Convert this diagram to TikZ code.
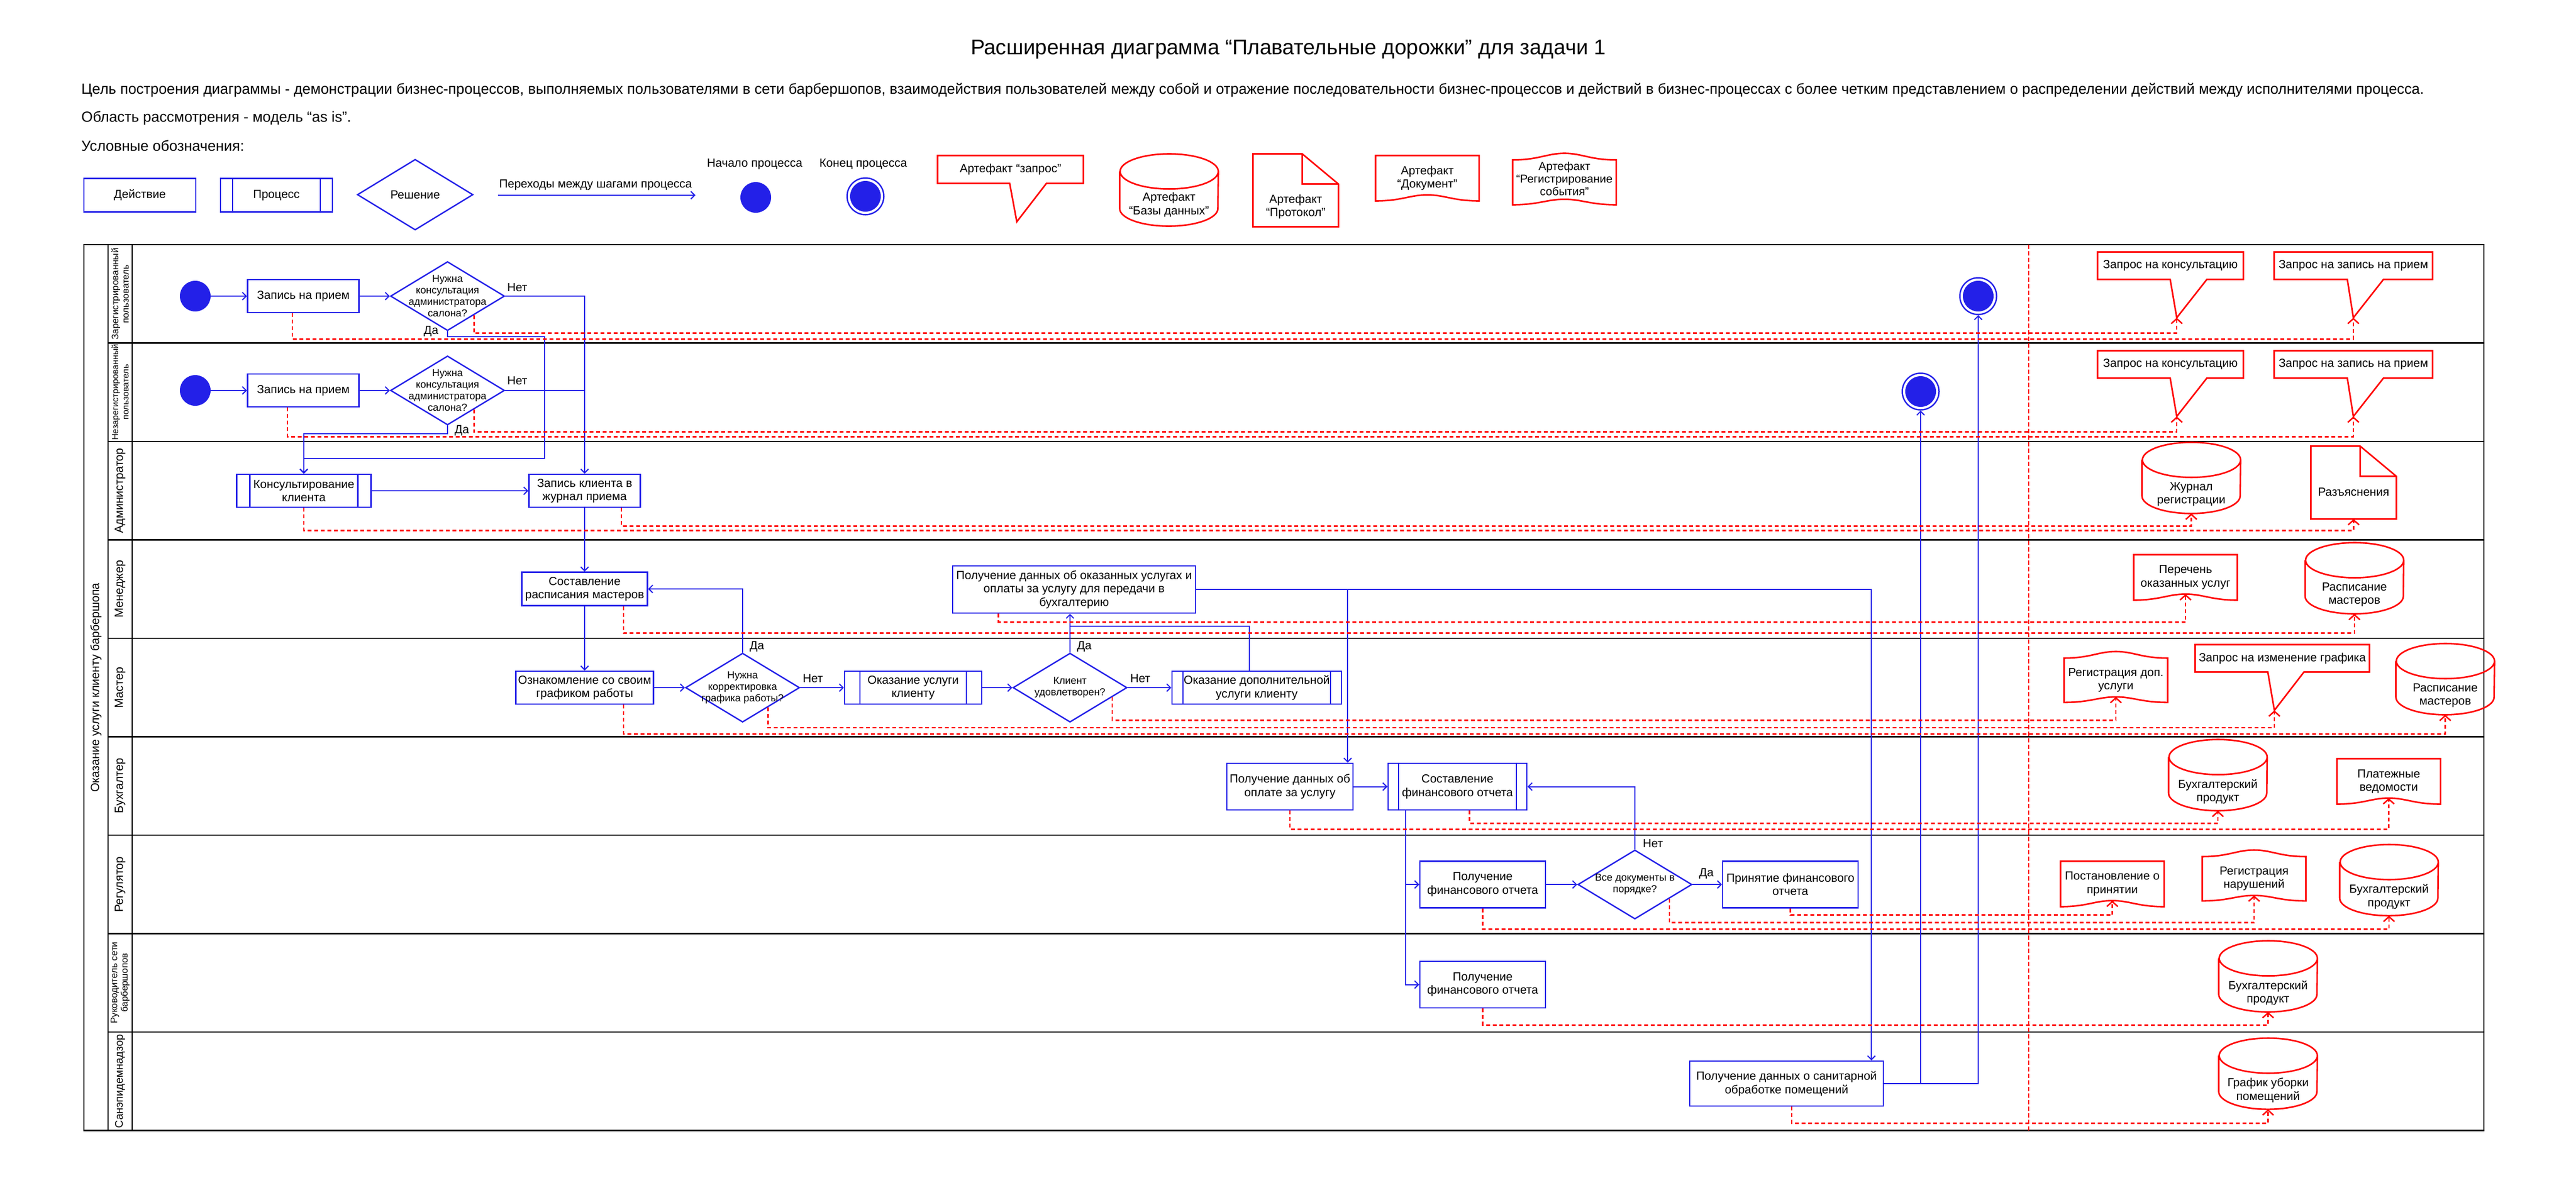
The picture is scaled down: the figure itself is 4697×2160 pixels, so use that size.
\documentclass[tikz,border=0pt]{standalone}
\usepackage{fontspec}
\setmainfont{Liberation Sans}
\usetikzlibrary{arrows.meta,shapes.geometric,calc}
\definecolor{bl}{HTML}{2320E8}
\definecolor{rd}{HTML}{FF0000}
\newcommand\boxfont{\fontsize{10.75}{12.25}\selectfont}
\newcommand\diafont{\fontsize{9.25}{10.5}\selectfont}
\newcommand\drawcyl[1]{%
  \draw[artline] ([yshift=-16pt]#1.north west) -- ([yshift=16pt]#1.south west)
    arc[start angle=180,end angle=360,x radius=44.75pt,y radius=16pt]
    -- ([yshift=-16pt]#1.north east)
    arc[start angle=0,end angle=180,x radius=44.75pt,y radius=16pt]
    arc[start angle=180,end angle=360,x radius=44.75pt,y radius=16pt];}
\newcommand\drawdoc[1]{%
  \draw[artline] (#1.south west) -- (#1.north west) -- (#1.north east) -- (#1.south east)
   .. controls ([xshift=-24pt]#1.south east) and ([xshift=16pt,yshift=5.5pt]#1.south) .. ([yshift=5.5pt]#1.south)
   .. controls ([xshift=-16pt,yshift=5.5pt]#1.south) and ([xshift=24pt]#1.south west) .. (#1.south west) -- cycle;
  \coordinate (#1-t) at ([yshift=5.5pt]#1.south);}
\newcommand\drawev[1]{%
  \draw[artline] (#1.south west) -- (#1.north west)
   .. controls ([xshift=24pt]#1.north west) and ([xshift=-16pt,yshift=6pt]#1.north) .. ([yshift=6pt]#1.north)
   .. controls ([xshift=16pt,yshift=6pt]#1.north) and ([xshift=-24pt]#1.north east) .. (#1.north east)
   -- (#1.south east)
   .. controls ([xshift=-24pt]#1.south east) and ([xshift=16pt,yshift=5pt]#1.south) .. ([yshift=5pt]#1.south)
   .. controls ([xshift=-16pt,yshift=5pt]#1.south) and ([xshift=24pt]#1.south west) .. (#1.south west) -- cycle;
  \coordinate (#1-t) at ([yshift=5pt]#1.south);}
\newcommand\drawpage[1]{%
  \draw[artline] (#1.south west) -- (#1.north west) -- ([xshift=-33pt]#1.north east) -- ([yshift=-27.5pt]#1.north east) -- (#1.south east) -- cycle;
  \draw[artline] ([xshift=-33pt]#1.north east) |- ([yshift=-27.5pt]#1.north east);}
\newcommand\drawcall[4]{%
  \draw[artline] ([xshift=#2]#1.south) -- (#1.south west) -- (#1.north west) -- (#1.north east) -- (#1.south east) -- ([xshift=#3]#1.south) -- ([xshift=#4,yshift=-35pt]#1.south) -- cycle;
  \coordinate (#1-tip) at ([xshift=#4,yshift=-35pt]#1.south);}
\begin{document}
\begin{tikzpicture}[x=0.5pt,y=-0.5pt,
  act/.style={draw=bl, line width=1.25pt, fill=white, inner sep=1pt, align=center, font=\boxfont, minimum height=30pt},
  proc/.style={act, path picture={\draw[bl, line width=1.25pt] ([xshift=#1]path picture bounding box.north west) -- ([xshift=#1]path picture bounding box.south west) ([xshift=-#1]path picture bounding box.north east) -- ([xshift=-#1]path picture bounding box.south east);}},
  proc/.default=11pt,
  dia/.style={diamond, draw=bl, line width=1.25pt, fill=white, inner sep=0pt, minimum width=104pt, minimum height=63pt},
  diatext/.style={font=\diafont, align=center, inner sep=0pt},
  startc/.style={circle, fill=bl, inner sep=0pt, minimum size=28pt},
  endc/.style={circle, draw=bl, line width=1.25pt, fill=white, inner sep=0pt, minimum size=33.5pt, path picture={\fill[bl] (path picture bounding box.center) circle[radius=14pt];}},
  artline/.style={draw=rd, line width=1.4pt},
  arttext/.style={font=\boxfont, align=center, inner sep=0pt},
  cylnode/.style={inner sep=0pt, minimum width=89.5pt, minimum height=64.5pt},
  docnode/.style={inner sep=0pt, minimum width=94pt, minimum height=41pt, font=\boxfont, align=center},
  evnode/.style={inner sep=0pt, minimum width=94pt, minimum height=40pt, font=\boxfont, align=center},
  pagenode/.style={inner sep=0pt, minimum width=77.5pt, minimum height=66pt},
  callnode/.style={inner sep=0pt, minimum height=24.5pt, font=\boxfont, align=center},
  flow/.style={draw=bl, line width=1pt, -{Straight Barb[length=3.5pt,width=7pt]}},
  blline/.style={draw=bl, line width=1pt},
  dep/.style={draw=rd, line width=1.3pt, dash pattern=on 3.5pt off 2.5pt, -{Straight Barb[length=4.5pt,width=10pt]}},
  lanel/.style={draw=black, line width=1.25pt},
  sepl/.style={draw=rd, line width=1pt, dash pattern=on 4pt off 2pt},
  yn/.style={font=\boxfont, inner sep=0pt},
  lanetext/.style={rotate=90, align=center, inner sep=0pt}
]
\fill[white] (0,0) rectangle (4697,2160);
\useasboundingbox (0,0) rectangle (4697,2160);

% ---------- header ----------
\node[font=\fontsize{19.3}{22}\selectfont, inner sep=0pt] (title) at (2349,90) {Расширенная диаграмма “Плавательные дорожки” для задачи 1};
\node[anchor=west, inner sep=0pt, font=\fontsize{13.4}{15}\selectfont] (goal) at (148,164) {Цель построения диаграммы - демонстрации бизнес-процессов, выполняемых пользователями в сети барбершопов, взаимодействия пользователей между собой и отражение последовательности бизнес-процессов и действий в бизнес-процессах с более четким представлением о распределении действий между исполнителями процесса.};
\node[anchor=west, inner sep=0pt, font=\fontsize{13.4}{15}\selectfont] (scope) at (148,215) {Область рассмотрения - модель “as is”.};
\node[anchor=west, inner sep=0pt, font=\fontsize{13.4}{15}\selectfont] (legendt) at (148,266) {Условные обозначения:};

% ---------- legend ----------
\node[act, minimum width=102pt, minimum height=30.5pt] (lact) at (255,356) {Действие};
\node[proc=11pt, minimum width=102pt, minimum height=30.5pt] (lproc) at (504,356) {Процесс};
\node[dia, minimum width=105.5pt, minimum height=64.5pt] (ldia) at (757,355) {};
\node[arttext] (ldia-t) at (ldia) {Решение};
\coordinate (la1) at (908,356);
\coordinate (la2) at (1268,356);
\draw[flow] (la1) -- (la2);
\node[yn] (la-t) at (1086,337) {Переходы между шагами процесса};
\node[yn] (lstart-t) at (1376,299) {Начало процесса};
\node[startc] (lstart) at (1378,360) {};
\node[yn] (lend-t) at (1574,299) {Конец процесса};
\node[endc] (lend) at (1578,358) {};
\node[callnode, minimum width=132.5pt, minimum height=25pt] (lcall) at (1842.5,309) {Артефакт “запрос”};
\drawcall{lcall}{-0.75pt}{32.75pt}{5.75pt}
\node[cylnode, minimum height=65.5pt] (lcyl) at (2131.5,346.5) {};
\drawcyl{lcyl}
\node[arttext] (lcyl-t) at ([yshift=-13.5pt]lcyl.center) {Артефакт\\“Базы данных”};
\node[pagenode] (lpage) at (2362.5,347) {};
\drawpage{lpage}
\node[arttext] (lpage-t) at ([yshift=-15pt]lpage.center) {Артефакт\\“Протокол”};
\node[docnode] (ldoc) at (2602.5,325) {Артефакт\\“Документ”};
\drawdoc{ldoc}
\node[evnode, minimum height=40.5pt] (lev) at (2852.5,332.5) {};
\drawev{lev}
\node[arttext, font=\fontsize{10.5}{11.5}\selectfont] (lev-t) at (2852.5,326) {Артефакт\\“Регистрирование\\события”};

% ---------- pool and lanes ----------
\draw[lanel] (153,446) rectangle (4529,2061.5);
\draw[lanel] (197,446) -- (197,2061.5);
\draw[lanel] (241,446) -- (241,2061.5);
\foreach \t in {625.5,805,984.5,1164,1343.5,1523,1702.5,1882} \draw[lanel] (197,\t) -- (4529,\t);
\draw[sepl] (3699,446) -- (3699,2061.5);

\node[lanetext, font=\boxfont] (pool) at (175,1254) {Оказание услуги клиенту барбершопа};
\node[lanetext, font=\fontsize{8.5}{9.5}\selectfont] (L1) at (219,536) {Зарегистрированный\\пользователь};
\node[lanetext, font=\fontsize{8}{9.5}\selectfont] (L2) at (219,715) {Незарегистрированный\\пользователь};
\node[lanetext, font=\boxfont] (L3) at (219,895) {Администратор};
\node[lanetext, font=\boxfont] (L4) at (219,1074) {Менеджер};
\node[lanetext, font=\boxfont] (L5) at (219,1254) {Мастер};
\node[lanetext, font=\boxfont] (L6) at (219,1433) {Бухгалтер};
\node[lanetext, font=\boxfont] (L7) at (219,1613) {Регулятор};
\node[lanetext, font=\fontsize{8.5}{9.5}\selectfont] (L8) at (219,1792) {Руководитель сети\\барбершопов};
\node[lanetext, font=\fontsize{10}{12}\selectfont] (L9) at (219,1972) {Санэпидемнадзор};

% ---------- process nodes ----------
\node[startc] (s1) at (356,540) {};
\node[act, minimum width=101.5pt] (zap1) at (553,540) {Запись на прием};
\node[dia] (d1) at (816,540) {};
\node[diatext] (d1-t) at (d1) {Нужна\\консультация\\администратора\\салона?};
\node[endc] (e1) at (3607,540) {};

\node[startc] (s2) at (356,712) {};
\node[act, minimum width=101.5pt] (zap2) at (553,712) {Запись на прием};
\node[dia] (d2) at (816,712) {};
\node[diatext] (d2-t) at (d2) {Нужна\\консультация\\администратора\\салона?};
\node[endc] (e2) at (3502,714) {};

\node[proc=12pt, minimum width=122.5pt] (kons) at (554,895) {Консультирование\\клиента};
\node[act, minimum width=101.5pt] (zkl) at (1066,895) {Запись клиента в\\журнал приема};

\node[act, minimum width=114.5pt, minimum height=30.5pt] (sost) at (1066,1074) {Составление\\расписания мастеров};
\node[act, minimum width=221.5pt, minimum height=43pt] (pold) at (1958.5,1075) {Получение данных об оказанных услугах и\\оплаты за услугу для передачи в\\бухгалтерию};

\node[act, minimum width=125.5pt] (ozn) at (1066,1254) {Ознакомление со своим\\графиком работы};
\node[dia] (d3) at (1354,1254) {};
\node[diatext] (d3-t) at (d3) {Нужна\\корректировка\\графика работы?};
\node[proc=14pt, minimum width=125pt] (okaz) at (1665,1254) {Оказание услуги\\клиенту};
\node[dia] (d4) at (1951,1254) {};
\node[diatext] (d4-t) at (d4) {Клиент\\удовлетворен?};
\node[proc=10pt, minimum width=154.5pt] (dop) at (2291.5,1254) {Оказание дополнительной\\услуги клиенту};

\node[act, minimum width=115pt, minimum height=42.5pt] (opl) at (2352,1434.5) {Получение данных об\\оплате за услугу};
\node[proc=9.5pt, minimum width=126.5pt, minimum height=42.5pt] (sfo) at (2657.5,1434.5) {Составление\\финансового отчета};

\node[act, minimum width=114.5pt, minimum height=42.5pt] (pfo1) at (2703.5,1613) {Получение\\финансового отчета};
\node[dia] (d5) at (2981,1613) {};
\node[diatext] (d5-t) at (d5) {Все документы в\\порядке?};
\node[act, minimum width=123.5pt, minimum height=42.5pt] (prin) at (3264.5,1613) {Принятие финансового\\отчета};

\node[act, minimum width=114.5pt, minimum height=42.5pt] (pfo2) at (2703.5,1795.5) {Получение\\финансового отчета};

\node[act, minimum width=176.5pt, minimum height=41pt] (san) at (3257.5,1976) {Получение данных о санитарной\\обработке помещений};

% yes / no labels
\node[yn] (d1-no) at ([xshift=11pt,yshift=8pt]d1.east) {Нет};
\node[yn] (d1-yes) at ([xshift=-15pt]d1.south) {Да};
\node[yn] (d2-no) at ([xshift=11pt,yshift=9pt]d2.east) {Нет};
\node[yn] (d2-yes) at ([xshift=13pt,yshift=-4.5pt]d2.south) {Да};
\node[yn] (d3-yes) at ([xshift=13pt,yshift=5.5pt]d3.north) {Да};
\node[yn] (d3-no) at ([xshift=11.5pt,yshift=8.5pt]d3.east) {Нет};
\node[yn] (d4-yes) at ([xshift=13pt,yshift=5.5pt]d4.north) {Да};
\node[yn] (d4-no) at ([xshift=11.5pt,yshift=8.5pt]d4.east) {Нет};
\node[yn] (d5-no) at ([xshift=16.5pt,yshift=5.5pt]d5.north) {Нет};
\node[yn] (d5-yes) at ([xshift=12.5pt,yshift=10pt]d5.east) {Да};

% ---------- artifacts ----------
\node[callnode, minimum width=132.5pt] (zk1) at (3957.5,484.5) {Запрос на консультацию};
\drawcall{zk1}{-0.25pt}{33.25pt}{5.75pt}
\node[callnode, minimum width=144pt] (zz1) at (4291,484.5) {Запрос на запись на прием};
\drawcall{zz1}{-5.5pt}{27.5pt}{0pt}
\node[callnode, minimum width=132.5pt] (zk2) at (3957.5,664.5) {Запрос на консультацию};
\drawcall{zk2}{-0.25pt}{33.25pt}{5.75pt}
\node[callnode, minimum width=144pt] (zz2) at (4291,664.5) {Запрос на запись на прием};
\drawcall{zz2}{-5.5pt}{27.5pt}{0pt}

\node[cylnode] (zhur) at (3995.5,871.5) {};
\drawcyl{zhur}
\node[arttext] (zhur-l) at ([yshift=-15pt]zhur.center) {Журнал\\регистрации};
\node[pagenode] (razj) at (4291.5,880) {};
\drawpage{razj}
\node[arttext] (razj-l) at ([yshift=-8.5pt]razj.center) {Разъяснения};

\node[docnode] (perech) at (3985,1053) {Перечень\\оказанных услуг};
\drawdoc{perech}
\node[cylnode] (rasp1) at (4293,1054.5) {};
\drawcyl{rasp1}
\node[arttext] (rasp1-l) at ([yshift=-15pt]rasp1.center) {Расписание\\мастеров};

\node[evnode] (regdop) at (3858,1240.5) {Регистрация доп.\\услуги};
\drawev{regdop}
\node[callnode, minimum width=158.5pt] (zizm) at (4161.5,1200.5) {Запрос на изменение графика};
\drawcall{zizm}{-13.25pt}{19.75pt}{-7.25pt}
\node[cylnode] (rasp2) at (4458.5,1238.5) {};
\drawcyl{rasp2}
\node[arttext] (rasp2-l) at ([yshift=-15pt]rasp2.center) {Расписание\\мастеров};

\node[cylnode] (buh1) at (4044,1413.5) {};
\drawcyl{buh1}
\node[arttext] (buh1-l) at ([yshift=-15pt]buh1.center) {Бухгалтерский\\продукт};
\node[docnode] (plat) at (4355.5,1425) {Платежные\\ведомости};
\drawdoc{plat}

\node[docnode] (post) at (3851.5,1612) {Постановление о\\принятии};
\drawdoc{post}
\node[evnode] (regnar) at (4110,1602.5) {Регистрация\\нарушений};
\drawev{regnar}
\node[cylnode] (buh2) at (4356,1605) {};
\drawcyl{buh2}
\node[arttext] (buh2-l) at ([yshift=-15pt]buh2.center) {Бухгалтерский\\продукт};

\node[cylnode] (buh3) at (4135.5,1780.5) {};
\drawcyl{buh3}
\node[arttext] (buh3-l) at ([yshift=-15pt]buh3.center) {Бухгалтерский\\продукт};

\node[cylnode] (graf) at (4135.5,1958) {};
\drawcyl{graf}
\node[arttext] (graf-l) at ([yshift=-15pt]graf.center) {График уборки\\помещений};

% ---------- control flow ----------
\draw[flow] (s1) -- (zap1);
\draw[flow] (zap1) -- (d1);
\draw[flow] (d1.east) -| (zkl.north);
\coordinate (w1) at (993,836);
\draw[flow] (d1.south) -- ++(0,10) -| (w1) -| (kons.north);
\draw[flow] (s2) -- (zap2);
\draw[flow] (zap2) -- (d2);
\draw[blline] (d2.east) -- (d2.east -| zkl.north);
\draw[flow] (d2.south) -- ++(0,15) -| (kons.north);
\draw[flow] (kons) -- (zkl);
\draw[flow] (zkl) -- (sost);
\draw[flow] (sost) -- (ozn);
\draw[flow] (ozn) -- (d3);
\draw[flow] (d3.north) |- (sost.east);
\draw[flow] (d3) -- (okaz);
\draw[flow] (okaz) -- (d4);
\draw[flow] (d4.north) -- (d4.north |- pold.south);
\draw[flow] (d4) -- (dop);
\coordinate (doptop) at ([xshift=-6.75pt]dop.north);
\coordinate (j1) at (1951,1142);
\draw[blline] (doptop) |- (j1);
\coordinate (sanin) at ([xshift=-11.5pt]san.north east);
\draw[flow] (pold.east) -| (sanin);
\coordinate (oplin) at ([xshift=-5.5pt]opl.north east);
\draw[flow] (oplin |- pold.east) -- (oplin);
\draw[flow] (opl) -- (sfo);
\coordinate (sfob) at ([xshift=16.5pt]sfo.south west);
\draw[flow] (sfob) |- (pfo1.west);
\draw[flow] (sfob) |- (pfo2.west);
\draw[flow] (pfo1) -- (d5);
\draw[flow] (d5.north) |- (sfo.east);
\draw[flow] (d5) -- (prin);
\draw[flow] (san.east) -| (e1.south);
\draw[flow] (e2.south |- san.east) -- (e2.south);

% ---------- artifact links ----------
\draw[dep] ([xshift=-10pt]zap1.south) -- ++(0,47) -| (zz1-tip);
\draw[dep] ($(d1.east)!0.54!(d1.south)$) -- ++(0,33) -| (zk1-tip);
\draw[dep] ([xshift=-14.5pt]zap2.south) -- ++(0,53) -| (zz2-tip);
\draw[dep] ($(d2.east)!0.54!(d2.south)$) -- ++(0,41) -| (zk2-tip);
\draw[dep] (kons.south) -- ++(0,41) -| (razj.south);
\draw[dep] ([xshift=33.5pt]zkl.south) -- ++(0,33) -| (zhur.south);
\draw[dep] ([xshift=35.5pt]sost.south) -- ++(0,49) -| (rasp1.south);
\draw[dep] ([xshift=-69pt]pold.south) -- ++(0,15) -| (perech-t);
\draw[dep] ($(d4.east)!0.27!(d4.south)$) -- ++(0,42) -| (regdop-t);
\draw[dep] ($(d3.east)!0.56!(d3.south)$) -- ++(0,37) -| (zizm-tip);
\draw[dep] ([xshift=35.5pt]ozn.south) -- ++(0,53) -| (rasp2.south);
\draw[dep] (opl.south) -- ++(0,34) -| (plat-t);
\draw[dep] ([xshift=11pt]sfo.south) -- ++(0,23) -| (buh1.south);
\draw[dep] (prin.south) -- ++(0,12) -| (post-t);
\draw[dep] ($(d5.east)!0.4!(d5.south)$) -- ++(0,44) -| (regnar-t);
\draw[dep] (pfo1.south) -- ++(0,38) -| (buh2.south);
\draw[dep] (pfo2.south) -- ++(0,30) -| (buh3.south);
\draw[dep] ([xshift=4.75pt]san.south) -- ++(0,30) -| (graf.south);
\end{tikzpicture}
\end{document}
